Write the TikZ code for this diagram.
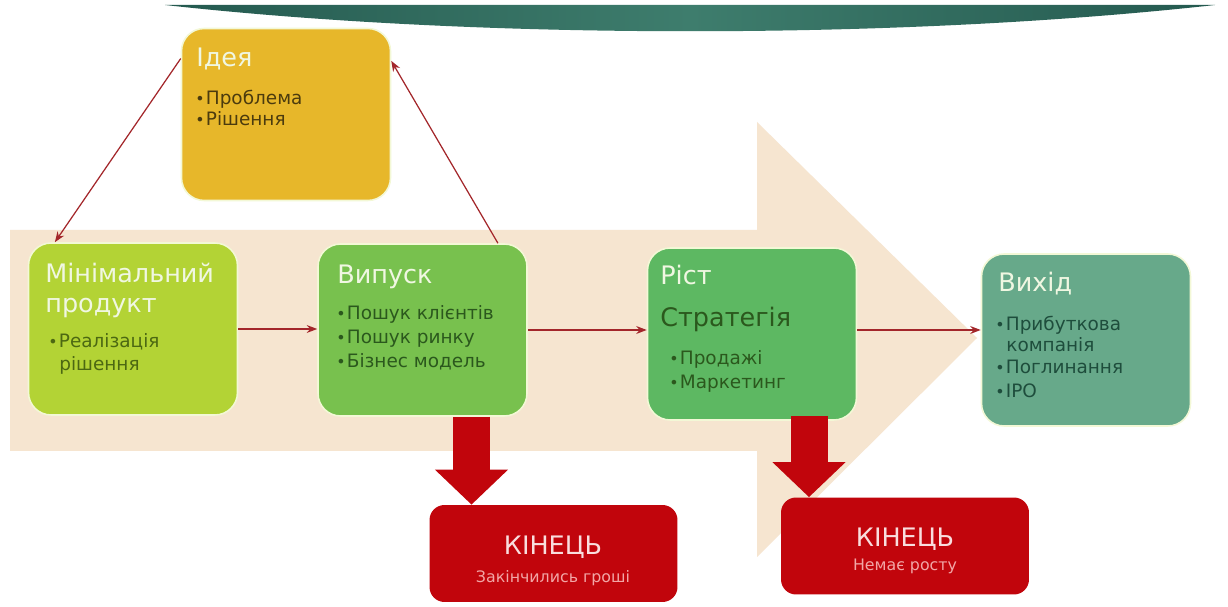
\documentclass[tikz,border=0pt]{standalone}
\usepackage{fontspec}
\setmainfont{DejaVu Sans}
\usetikzlibrary{arrows.meta,calc}

\definecolor{banner}{HTML}{24594F}
\definecolor{bannerhell}{HTML}{3E7D6D}
\definecolor{grund}{HTML}{F6E5D0}
\definecolor{ideefarbe}{HTML}{E7B72A}
\definecolor{mvpfarbe}{HTML}{B3D335}
\definecolor{startfarbe}{HTML}{78C14E}
\definecolor{wachsfarbe}{HTML}{5DB862}
\definecolor{exitfarbe}{HTML}{67A98A}
\definecolor{endrot}{HTML}{C1050C}
\definecolor{linie}{HTML}{A3262A}
\definecolor{rand}{HTML}{F3F8D6}
\definecolor{hell}{HTML}{F0F7E2}
\definecolor{ideetext}{HTML}{4B3B0E}
\definecolor{mvptext}{HTML}{4C6812}
\definecolor{gruentext}{HTML}{2B581D}
\definecolor{exittext}{HTML}{1E4D3C}
\definecolor{endtext}{HTML}{F9DEDE}
\definecolor{endsub}{HTML}{F2A6A6}

\tikzset{
	kasten/.style={rectangle, rounded corners=0.45cm, draw=rand, line width=0.9pt, inner sep=0pt, minimum width=4.18cm, minimum height=3.44cm},
	ende/.style={rectangle, rounded corners=0.3cm, fill=endrot, inner sep=0pt, minimum width=4.96cm, minimum height=1.94cm},
	titel/.style={anchor=base west, inner sep=0pt, text=hell, font=\fontsize{14.5}{16}\selectfont},
	punkt/.style={anchor=base west, inner sep=0pt, font=\fontsize{10.5}{12}\selectfont},
	endtitel/.style={anchor=base, inner sep=0pt, text=endtext, font=\fontsize{14.5}{16}\selectfont},
	endsubtitel/.style={anchor=base, inner sep=0pt, text=endsub, font=\fontsize{9}{11}\selectfont},
	verbindung/.style={draw=linie, line width=0.7pt, -{Stealth[length=6pt,width=4.5pt]}},
	blockpfeil/.style={draw=endrot, line width=0.74cm, -{Triangle[length=0.7cm,width=1.42cm]}}
}
\newcommand{\pkt}{\makebox[6pt][l]{\fontsize{9}{9}\selectfont •}}

\begin{document}
\begin{tikzpicture}[x=0.02cm,y=-0.02cm]
	\fill[white] (0,0) rectangle (1228,607);
	\useasboundingbox (0,0) rectangle (1228,607);
	% Band oben
	\shade[left color=banner, right color=banner, middle color=bannerhell] (165,5) to (1215,5) .. controls (900,40) and (480,40) .. (165,5) -- cycle;
	% grosser Pfeil im Hintergrund
	\fill[grund] (10,230) -- (757,230) -- (757,122) -- (977,338) -- (757,557) -- (757,451) -- (10,451) -- cycle;

	% Kaesten
	\node[kasten, fill=ideefarbe] (idee) at (286,114.5) {};
	\node[kasten, fill=mvpfarbe] (mvp) at (133,329) {};
	\node[kasten, fill=startfarbe] (start) at (422.5,330) {};
	\node[kasten, fill=wachsfarbe] (wachs) at (752,334) {};
	\node[kasten, fill=exitfarbe] (exit) at (1086,340) {};
	\node[ende] (ende1) at (553.5,553.5) {};
	\node[ende] (ende2) at (905,546) {};

	% Texte
	\node[titel] (idee-t) at (196,67) {Ідея};
	\node[punkt, text=ideetext] (idee-p1) at (195,105) {\pkt Проблема};
	\node[punkt, text=ideetext] (idee-p2) at (195,126) {\pkt Рішення};

	\node[titel] (mvp-t1) at (45,283) {Мінімальний};
	\node[titel] (mvp-t2) at (45,313) {продукт};
	\node[punkt, text=mvptext] (mvp-p1) at (48,348) {\pkt Реалізація};
	\node[punkt, text=mvptext] (mvp-p2) at (59,371) {рішення};

	\node[titel] (start-t) at (337,284) {Випуск};
	\node[punkt, text=gruentext] (start-p1) at (336,320) {\pkt Пошук клієнтів};
	\node[punkt, text=gruentext] (start-p2) at (336,344) {\pkt Пошук ринку};
	\node[punkt, text=gruentext] (start-p3) at (336,368) {\pkt Бізнес модель};

	\node[titel] (wachs-t) at (660,285) {Ріст};
	\node[titel, text=gruentext] (wachs-s) at (660,327) {Стратегія};
	\node[punkt, text=gruentext] (wachs-p1) at (669,365) {\pkt Продажі};
	\node[punkt, text=gruentext] (wachs-p2) at (669,389) {\pkt Маркетинг};

	\node[titel] (exit-t) at (998,292) {Вихід};
	\node[punkt, text=exittext] (exit-p1) at (995,331) {\pkt Прибуткова};
	\node[punkt, text=exittext] (exit-p2) at (1006,352) {компанія};
	\node[punkt, text=exittext] (exit-p3) at (995,374) {\pkt Поглинання};
	\node[punkt, text=exittext] (exit-p4) at (995,398) {\pkt IPO};

	\node[endtitel] (ende1-t) at (553,555) {КІНЕЦЬ};
	\node[endsubtitel] (ende1-s) at (553,583) {Закінчились гроші};
	\node[endtitel] (ende2-t) at (905,547) {КІНЕЦЬ};
	\node[endsubtitel] (ende2-s) at (905,571) {Немає росту};

	% Verbindungen
	\draw[verbindung] (idee.152) to (mvp.132);
	\draw[verbindung] (start.49) to (idee.27);
	\draw[verbindung] (mvp.east) to (mvp.east -| start.west);
	\draw[verbindung] (start.east) to (start.east -| wachs.west);
	\draw[verbindung] (wachs.east |- start.east) to (exit.west |- start.east);

	% rote Pfeile nach unten
	\coordinate (p1) at ($(start.south)+(49,0)$);
	\coordinate (p2) at ($(wachs.south)+(57,-5)$);
	\draw[blockpfeil] (p1) to (p1 |- ende1.north);
	\draw[blockpfeil] (p2) to (p2 |- ende2.north);
\end{tikzpicture}
\end{document}
